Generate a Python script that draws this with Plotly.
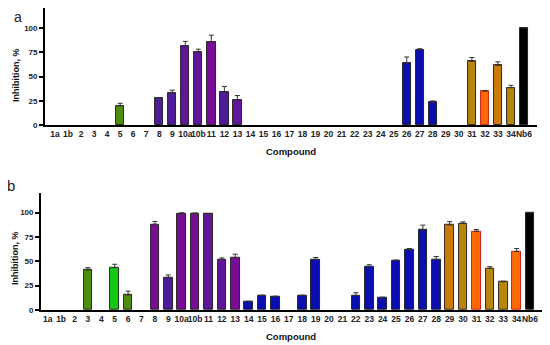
import plotly.graph_objects as go

categories = ["1a", "1b"] + [str(i) for i in range(2, 10)] + ["10a", "10b"] + [str(i) for i in range(11, 35)] + ["Nb6"]

# Panel a values (None = not shown)
a_vals = {"5": 20, "8": 27.5, "9": 33, "10a": 81.5, "10b": 75, "11": 85.3, "12": 33.8, "13": 26,
          "26": 64, "27": 77.5, "28": 24, "31": 65.5, "32": 35, "33": 61.4, "34": 38.5, "Nb6": 100}
a_err = {"5": 2.5, "8": 0.8, "9": 3, "10a": 4.5, "10b": 3, "11": 7, "12": 6, "13": 4.5,
         "26": 6, "27": 1, "28": 1, "31": 4, "32": 0.6, "33": 3.6, "34": 2.5, "Nb6": 0}
# Panel b values
b_vals = {"3": 41, "5": 43.5, "6": 15.4, "8": 88, "9": 33, "10a": 98.7, "10b": 98.7, "11": 98.5,
          "12": 52, "13": 53.8, "14": 8.6, "15": 14.7, "16": 13.7, "18": 14.7, "19": 51.4,
          "22": 14.7, "23": 44.5, "24": 12.7, "25": 50.7, "26": 61.7, "27": 82.2, "28": 52,
          "29": 87.4, "30": 89, "31": 80.9, "32": 42.8, "33": 29, "34": 60, "Nb6": 100}
b_err = {"3": 2.5, "5": 3.5, "6": 4, "8": 3, "9": 3, "10a": 1.2, "10b": 1, "11": 0.5,
         "12": 1.5, "13": 3.5, "14": 0.5, "15": 0.6, "16": 0.5, "18": 0.6, "19": 2.5,
         "22": 3, "23": 2, "24": 0.5, "25": 0.6, "26": 1.5, "27": 5, "28": 3,
         "29": 3.4, "30": 1.5, "31": 1.7, "32": 1.7, "33": 0.6, "34": 3.2, "Nb6": 0}

OLIVE = "#4f8d12"
LIME = "#14c814"
INDIGO = "#4d1c98"
PURP = "#5f1699"
MAG = "#790c95"
BLUE = "#0b0fb2"
GOLD = "#b8860b"
ORANGE = "#ff6a00"
AMBER = "#cc7a0a"
BLACK = "#000000"

a_colors = {"5": OLIVE, "8": INDIGO, "9": INDIGO, "10a": PURP, "10b": PURP, "11": MAG, "12": INDIGO,
            "13": PURP, "26": BLUE, "27": BLUE, "28": BLUE, "31": GOLD, "32": ORANGE, "33": AMBER,
            "34": GOLD, "Nb6": BLACK}
b_colors = {"3": OLIVE, "5": LIME, "6": OLIVE, "8": MAG, "9": INDIGO, "10a": MAG, "10b": MAG,
            "11": PURP, "12": PURP, "13": MAG, "29": AMBER, "30": GOLD, "31": ORANGE, "32": GOLD,
            "33": GOLD, "34": ORANGE, "Nb6": BLACK}
for c in ["14", "15", "16", "18", "19", "22", "23", "24", "25", "26", "27", "28"]:
    b_colors[c] = BLUE

idx = list(range(len(categories)))


def edge(col):
    return "#c81010" if col == ORANGE else "#1a1a1a"


def build(vals, errs, cols):
    y = [vals.get(c) for c in categories]
    e = [errs.get(c, 0) for c in categories]
    colors = [cols.get(c, "#ffffff") for c in categories]
    edges = [edge(col) for col in colors]
    return y, e, colors, edges


fig = go.Figure()
for name, vals, errs, cols, xa, ya in [("a", a_vals, a_err, a_colors, "x", "y"),
                                        ("b", b_vals, b_err, b_colors, "x2", "y2")]:
    y, e, colors, edges = build(vals, errs, cols)
    fig.add_trace(go.Bar(
        x=idx, y=y, width=0.64, xaxis=xa, yaxis=ya,
        marker=dict(color=colors, line=dict(color=edges, width=0.9)),
        error_y=dict(type="data", symmetric=False, array=e, arrayminus=[0] * len(e),
                     color="#333333", thickness=1, width=2.5),
        showlegend=False, hoverinfo="skip"))

# page body has an 8px margin, so the figure is shifted by 8px
OX, OY = 8, 8
W, H = 542, 337


def px(x):
    return min(1.0, max(0.0, (x - OX) / W))


def py(y):
    return min(1.0, max(0.0, (H - (y - OY)) / H))


font = "Liberation Sans, Arial, sans-serif"
tick_text = ["<b>%s</b>" % c for c in categories]

common_x = dict(tickmode="array", tickvals=idx, ticktext=tick_text, showgrid=False, zeroline=False,
                showline=True, linecolor="black", linewidth=1.8, ticks="", tickangle=0,
                automargin=False, ticklabeloverflow="allow",
                tickfont=dict(family=font, size=8.5, color="#222222"), fixedrange=True)
common_y = dict(tickmode="array", tickvals=[0, 25, 50, 75, 100],
                ticktext=["<b>%d</b>" % v for v in [0, 25, 50, 75, 100]],
                showgrid=False, zeroline=False, showline=True, linecolor="black", linewidth=1.8,
                ticks="outside", ticklen=4, tickwidth=1.5, tickcolor="black", automargin=False,
                tickfont=dict(family=font, size=8, color="#222222"), fixedrange=True)

fig.update_layout(
    width=W, height=H, margin=dict(l=0, r=0, t=0, b=0),
    plot_bgcolor="white", paper_bgcolor="white", bargap=0,
    xaxis=dict(common_x, domain=[px(45), px(537)], range=[-0.77, 37.0], anchor="y"),
    yaxis=dict(common_y, domain=[py(125.3), py(8)], range=[0, 120.2], anchor="x"),
    xaxis2=dict(common_x, domain=[px(41), px(543)], range=[-0.5, 36.97], anchor="y2"),
    yaxis2=dict(common_y, domain=[py(310), py(192.7)], range=[0, 120.5], anchor="x2"),
)

ann = [
    dict(text="<b>Compound</b>", x=px(291), y=py(151)),
    dict(text="<b>Compound</b>", x=px(291), y=py(336)),
    dict(text="<b>Inhibition, %</b>", x=px(16), y=py(75), textangle=-90),
    dict(text="<b>Inhibition, %</b>", x=px(15), y=py(258), textangle=-90),
]
for a in ann:
    fig.add_annotation(xref="paper", yref="paper", showarrow=False, xanchor="center", yanchor="middle",
                       font=dict(family=font, size=9.5 if "Compound" in a["text"] else 9, color="#111111"), **a)

fig.add_annotation(text="a", xref="paper", yref="paper", x=px(18), y=1, showarrow=False, borderpad=0,
                   xanchor="center", yanchor="top", font=dict(family=font, size=14, color="#222222"))
fig.add_annotation(text="b", xref="paper", yref="paper", x=px(11), y=py(185), showarrow=False,
                   xanchor="center", yanchor="middle", font=dict(family=font, size=15, color="#222222"))

fig.write_html("out.html")
